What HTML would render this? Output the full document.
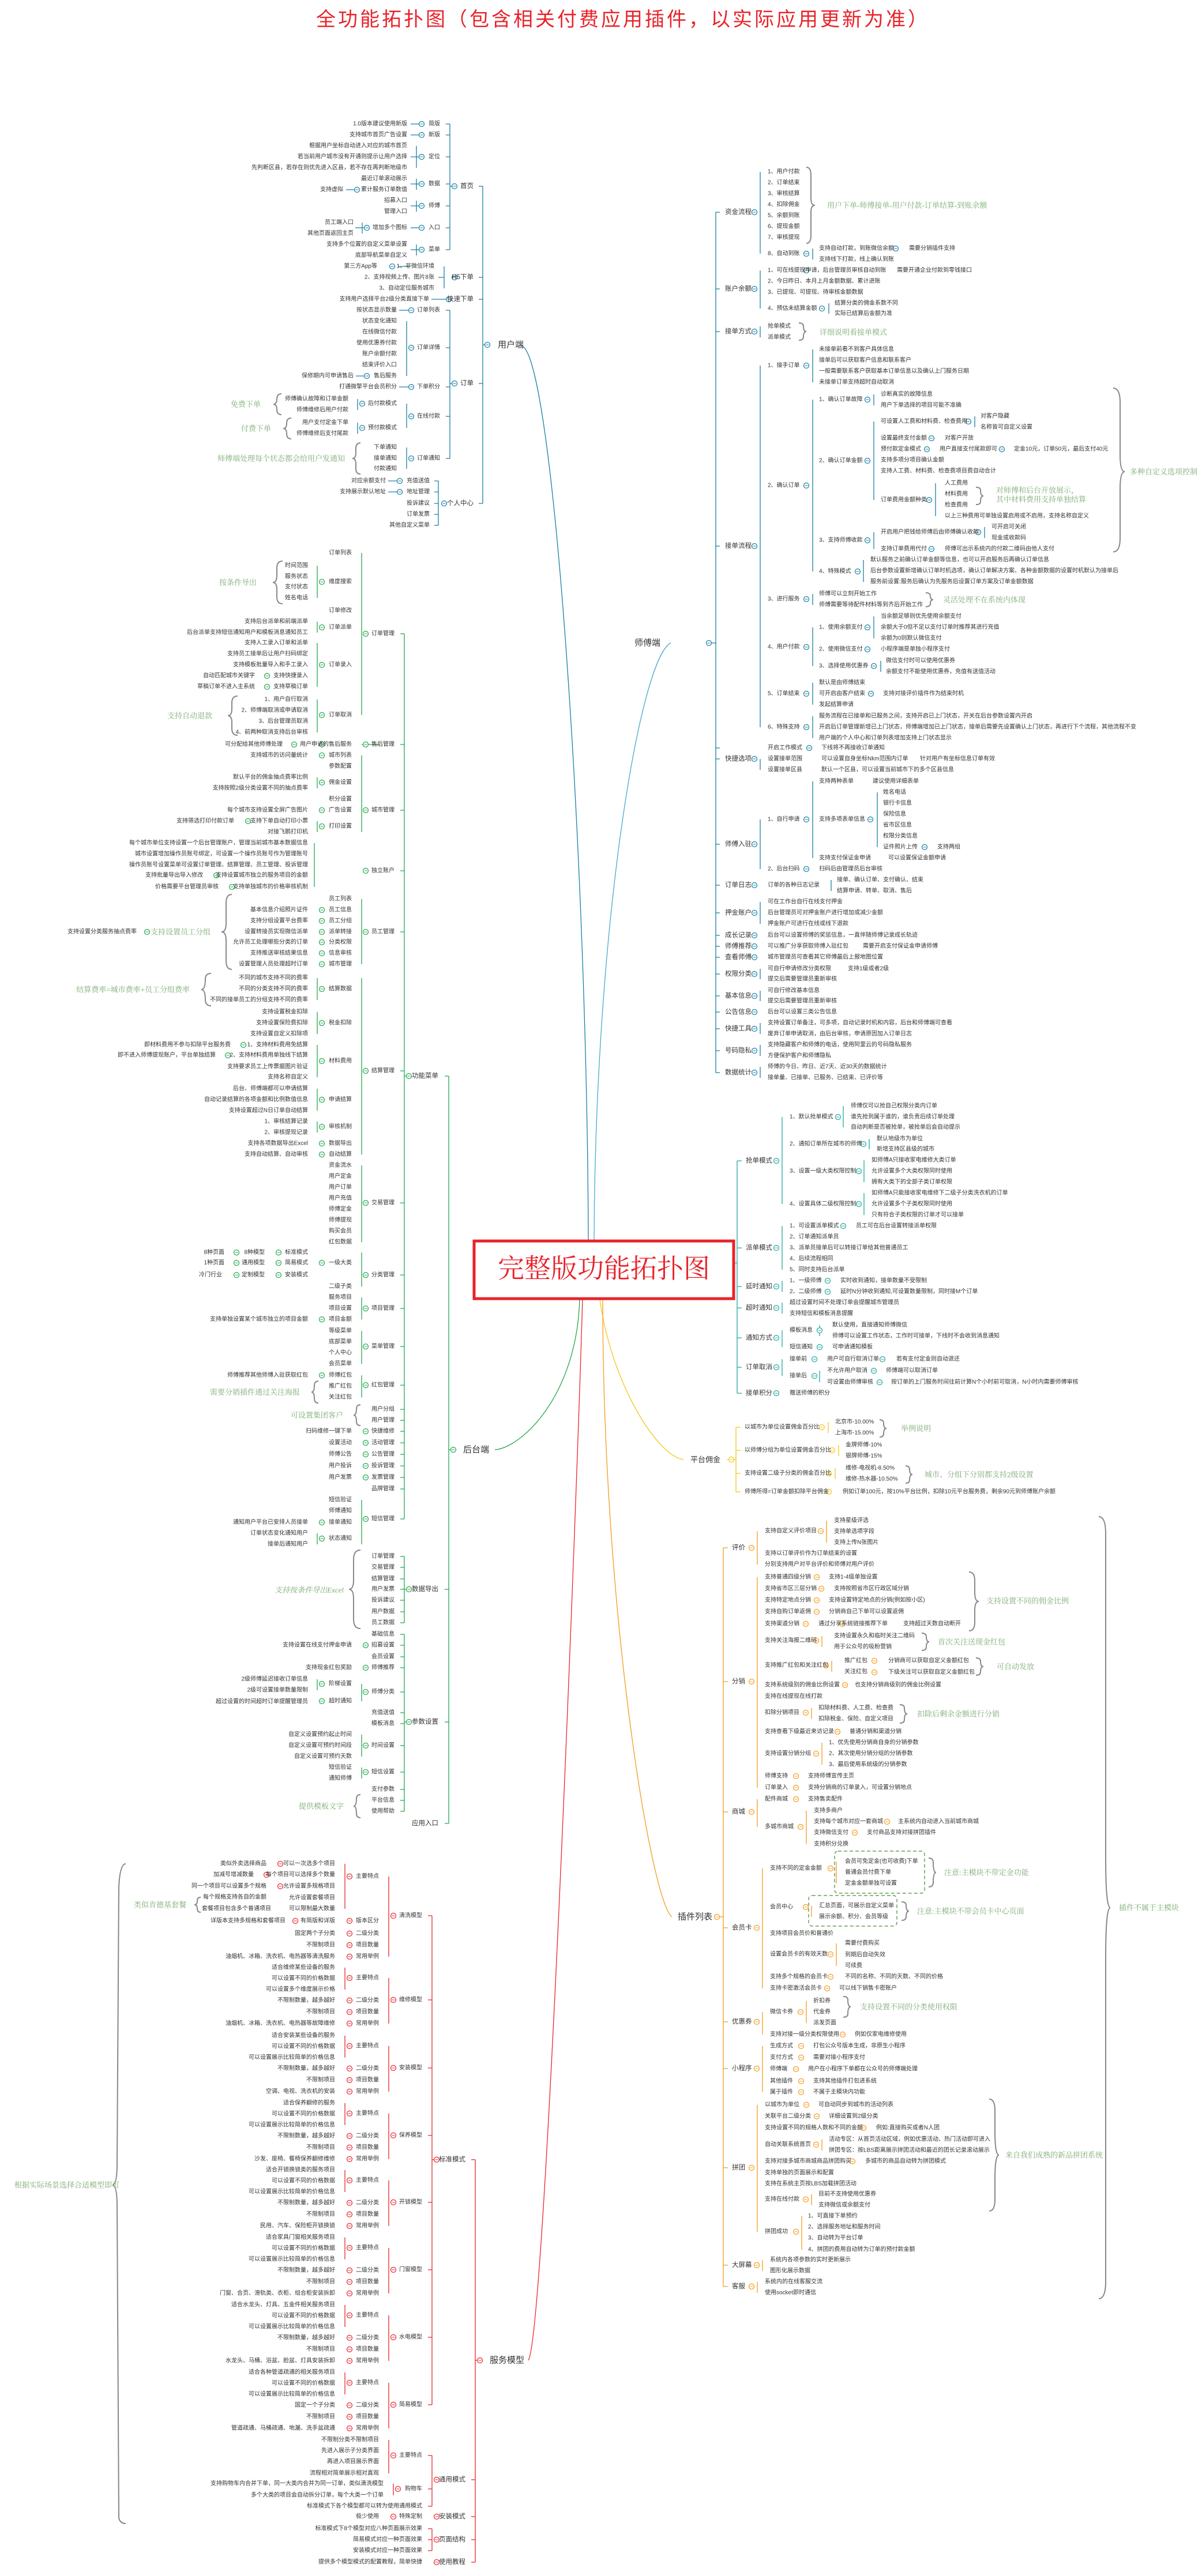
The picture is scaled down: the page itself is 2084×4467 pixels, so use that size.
<!DOCTYPE html>
<html><head><meta charset="utf-8">
<style>
html,body{margin:0;padding:0;background:#fff;}
svg{display:block;}
text{font-family:"Liberation Sans","Noto Sans CJK SC",sans-serif;font-size:10px;fill:#333;dominant-baseline:central;}
.e{text-anchor:end;}
.L{font-size:11.5px;}
.B{font-size:15px;}
.n{font-family:"Liberation Serif","Noto Serif CJK SC",serif;font-size:13px;fill:#7aaa70;}
.ln{fill:none;stroke-width:1.3;}
.br{fill:none;stroke:#888;stroke-width:2;}
</style></head><body>
<svg width="2084" height="4467" viewBox="0 0 2084 4467" xmlns="http://www.w3.org/2000/svg">
<defs><g id="cm"><circle r="4.5" fill="#fff" stroke="currentColor" stroke-width="1.2"/><path d="M-2.5 0h5" stroke="currentColor" stroke-width="1"/></g></defs>

<!-- Title -->
<text x="1080" y="34" text-anchor="middle" style="font-size:34px;fill:#e8232a;letter-spacing:4px;font-family:'Liberation Sans','Noto Sans CJK SC',sans-serif">全功能拓扑图（包含相关付费应用插件，以实际应用更新为准）</text>

<!-- main connectors -->
<path class="ln" stroke="#1b7fa3" d="M905 600 C960 620,1018 1500,1020 2150"/>
<path class="ln" stroke="#48aac8" d="M1163 1115 C1110 1140,1032 1600,1030 2150"/>
<path class="ln" stroke="#23a84c" d="M858 2514 C905 2510,1000 2420,1005 2253"/>
<path class="ln" stroke="#e8262c" d="M916 4093 C945 4050,1000 2600,1010 2253"/>
<path class="ln" stroke="#f5c61a" d="M1185 2531 C1140 2525,1060 2400,1040 2253"/>
<path class="ln" stroke="#f39c1f" d="M1165 3324 C1130 3300,1045 2800,1045 2253"/>
<path class="ln" stroke="#20a8a0" d="M1274 2190 H1278"/>

<!-- Center box -->
<rect x="822" y="2152" width="450" height="100" fill="#fff" stroke="#e8232a" stroke-width="5"/>
<text x="1047" y="2200" text-anchor="middle" style="font-size:46px;fill:#e8232a;font-family:'Liberation Serif','Noto Serif CJK SC',serif">完整版功能拓扑图</text>

<!-- ================= 用户端 ================= -->
<g>
<path class="ln" stroke="#1b7fa3" d="M837 323V873 M830 323h7 M830 481h7 M830 519h7 M830 665h7 M830 873h7 M837 598h4
M780 215V433 M773 215h7 M773 234h7 M773 272h7 M773 319h7 M773 357h7 M773 395h7 M773 433h7 M780 323h10
M722 253V291 M722 310V329 M722 348V367 M722 424V443 M628 386V405 M712 215h15 M712 234h15 M712 272h15 M712 319h15 M712 357h15 M712 395h15 M712 433h15 M600 329h15 M616 395h15
M770 462V500 M690 462h20 M760 481h10 M748 519h25
M780 538V795 M773 538h7 M773 603h7 M773 671h7 M773 722h7 M773 795h7 M780 665h10
M705 557V652 M705 700V742 M620 692V711 M620 733V752 M705 776V813 M692 538h20 M692 671h20 M617 652h15
M760 834V911 M753 834h7 M753 853h7 M753 873h7 M753 892h7 M753 911h7 M673 834h20 M673 853h20"/>
<g style="color:#1b7fa3">
<use href="#cm" x="845" y="598"/><use href="#cm" x="788" y="323"/><use href="#cm" x="788" y="481"/><use href="#cm" x="778" y="519"/><use href="#cm" x="788" y="665"/><use href="#cm" x="770" y="873"/>
<use href="#cm" x="731" y="215"/><use href="#cm" x="731" y="234"/><use href="#cm" x="731" y="272"/><use href="#cm" x="731" y="319"/><use href="#cm" x="731" y="357"/><use href="#cm" x="731" y="395"/><use href="#cm" x="731" y="433"/>
<use href="#cm" x="619" y="329"/><use href="#cm" x="636" y="395"/><use href="#cm" x="680" y="462"/><use href="#cm" x="713" y="538"/><use href="#cm" x="713" y="603"/><use href="#cm" x="636" y="652"/><use href="#cm" x="713" y="671"/><use href="#cm" x="713" y="722"/><use href="#cm" x="628" y="700"/><use href="#cm" x="628" y="742"/><use href="#cm" x="713" y="795"/><use href="#cm" x="693" y="834"/><use href="#cm" x="693" y="853"/>
</g>
<text x="863" y="598" class="B">用户端</text>
<text class="e L" x="821" y="323">首页</text><text class="e L" x="821" y="481">H5下单</text><text class="e L" x="821" y="519">快速下单</text><text class="e L" x="821" y="665">订单</text><text class="e L" x="821" y="873">个人中心</text>
<text class="e" x="763" y="215">简版</text><text class="e" x="763" y="234">新版</text><text class="e" x="763" y="272">定位</text><text class="e" x="763" y="319">数据</text><text class="e" x="763" y="357">师傅</text><text class="e" x="763" y="395">入口</text><text class="e" x="763" y="433">菜单</text>
<text class="e" x="706" y="215">1.0版本建议使用新版</text><text class="e" x="706" y="234">支持城市首页广告设置</text><text class="e" x="706" y="253">根据用户坐标自动进入对应的城市首页</text><text class="e" x="706" y="272">若当前用户城市没有开通则提示让用户选择</text><text class="e" x="706" y="291">先判断区县，若存在则优先进入区县，若不存在再判断地级市</text><text class="e" x="706" y="310">最近订单滚动展示</text><text class="e" x="706" y="329">累计服务订单数值</text><text class="e" x="595" y="329">支持虚拟</text><text class="e" x="706" y="348">招募入口</text><text class="e" x="706" y="367">管理入口</text><text class="e" x="706" y="395">增加多个图标</text><text class="e" x="613" y="386">员工端入口</text><text class="e" x="613" y="405">其他页面返回主页</text><text class="e" x="706" y="424">支持多个位置的自定义菜单设置</text><text class="e" x="706" y="443">底部导航菜单自定义</text>
<text class="e" x="753" y="462">1、非微信环境</text><text class="e" x="654" y="462">第三方App等</text><text class="e" x="753" y="481">2、支持视频上传、图片8张</text><text class="e" x="753" y="500">3、自动定位服务城市</text>
<text class="e" x="744" y="519">支持用户选择平台2级分类直接下单</text>
<text class="e" x="763" y="538">订单列表</text><text class="e" x="688" y="538">按状态显示数量</text>
<text class="e" x="763" y="603">订单详情</text><text class="e" x="688" y="557">状态变化通知</text><text class="e" x="688" y="576">在线微信付款</text><text class="e" x="688" y="595">使用优惠券付款</text><text class="e" x="688" y="614">账户余额付款</text><text class="e" x="688" y="633">结束评价入口</text><text class="e" x="688" y="652">售后服务</text><text class="e" x="613" y="652">保修期内可申请售后</text>
<text class="e" x="763" y="671">下单积分</text><text class="e" x="688" y="671">打通微擎平台会员积分</text>
<text class="e" x="763" y="722">在线付款</text><text class="e" x="688" y="700">后付款模式</text><text class="e" x="688" y="742">预付款模式</text>
<text class="e" x="604" y="692">师傅确认故障和订单金额</text><text class="e" x="604" y="711">师傅维修后用户付款</text><text class="e" x="604" y="733">用户支付定金下单</text><text class="e" x="604" y="752">师傅维修后支付尾款</text>
<text class="e n" x="452" y="701">免费下单</text><text class="e n" x="470" y="743">付费下单</text>
<path class="br" d="M488 683 q-8 0 -8 9 v0 q0 9 -6 9 q6 0 6 9 q0 9 8 9 M505 725 q-8 0 -8 9 q0 9 -6 9 q6 0 6 9 q0 9 8 9 M625 768 q-8 0 -8 10 v7 q0 10 -6 10 q6 0 6 10 v7 q0 10 8 10"/>
<text class="e" x="763" y="795">订单通知</text><text class="e" x="688" y="776">下单通知</text><text class="e" x="688" y="795">接单通知</text><text class="e" x="688" y="813">付款通知</text>
<text class="e n" x="598" y="795">师傅端处理每个状态都会给用户发通知</text>
<text class="e" x="745" y="834">充值送值</text><text class="e" x="669" y="834">对应余额支付</text><text class="e" x="745" y="853">地址管理</text><text class="e" x="669" y="853">支持展示默认地址</text><text class="e" x="745" y="873">投诉建议</text><text class="e" x="745" y="892">订单发票</text><text class="e" x="745" y="911">其他自定义菜单</text>
</g>

<!-- ================= 后台端 ================= -->
<g>
<path class="ln" stroke="#23a84c" d="M778 1866V3162 M771 1866h7 M771 2756h7 M771 2986h7 M771 3162h7 M778 2514h12
M701 1099V2634 M694 1099h7 M694 1291h7 M694 1405h7 M694 1510h7 M694 1616h7 M694 1857h7 M694 2086h7 M694 2211h7 M694 2269h7 M694 2335h7 M694 2402h7 M694 2444h7 M694 2463h7 M694 2482h7 M694 2502h7 M694 2522h7 M694 2542h7 M694 2562h7 M694 2582h7 M694 2634h7 M701 1866h12
M627 959V1240 M627 1291h30 M627 1310V1443 M545 1462V1538 M627 1559V1672 M627 1696V2002 M627 2021V2154 M627 2172V2231 M627 2250V2288 M627 2308V2365 M627 2385V2423 M627 2601V2678
M550 981V1037 M550 1078V1097 M550 1115V1191 M550 1213V1270 M550 1348V1367 M550 1424V1443 M550 1696V1734 M550 1755V1793 M550 1812V1868 M550 1888V1926 M550 1945V1964 M550 2659V2678
M701 2699V2814 M694 2699h7 M694 2718h7 M694 2738h7 M694 2756h7 M694 2775h7 M694 2795h7 M694 2814h7 M701 2756h10
M701 2834V3141 M694 2834h7 M694 2853h7 M694 2873h7 M694 2892h7 M694 2934h7 M694 2970h7 M694 2989h7 M694 3027h7 M694 3073h7 M694 3103h7 M694 3122h7 M694 3141h7 M701 2986h10
M627 2920V2950 M627 3008V3046 M627 3065V3084 M550 2912V2931"/>
<g style="color:#23a84c">
<use href="#cm" x="786" y="2514"/><use href="#cm" x="709" y="1866"/><use href="#cm" x="709" y="2756"/><use href="#cm" x="709" y="2986"/>
<use href="#cm" x="634" y="1099"/><use href="#cm" x="634" y="1291"/><use href="#cm" x="634" y="1405"/><use href="#cm" x="634" y="1510"/><use href="#cm" x="634" y="1616"/><use href="#cm" x="634" y="1857"/><use href="#cm" x="634" y="2086"/><use href="#cm" x="634" y="2211"/><use href="#cm" x="634" y="2269"/><use href="#cm" x="634" y="2335"/><use href="#cm" x="634" y="2402"/><use href="#cm" x="634" y="2634"/>
<use href="#cm" x="558" y="1009"/><use href="#cm" x="558" y="1088"/><use href="#cm" x="558" y="1153"/><use href="#cm" x="558" y="1240"/><use href="#cm" x="558" y="1291"/><use href="#cm" x="558" y="1310"/><use href="#cm" x="558" y="1357"/><use href="#cm" x="558" y="1405"/><use href="#cm" x="558" y="1433"/><use href="#cm" x="558" y="1578"/><use href="#cm" x="558" y="1597"/><use href="#cm" x="558" y="1616"/><use href="#cm" x="558" y="1634"/><use href="#cm" x="558" y="1653"/><use href="#cm" x="558" y="1672"/><use href="#cm" x="558" y="1715"/><use href="#cm" x="558" y="1774"/><use href="#cm" x="558" y="1840"/><use href="#cm" x="558" y="1907"/><use href="#cm" x="558" y="1954"/><use href="#cm" x="558" y="1983"/><use href="#cm" x="558" y="2002"/><use href="#cm" x="558" y="2190"/><use href="#cm" x="558" y="2288"/><use href="#cm" x="558" y="2385"/><use href="#cm" x="558" y="2640"/><use href="#cm" x="558" y="2668"/>
<use href="#cm" x="634" y="2482"/><use href="#cm" x="634" y="2502"/><use href="#cm" x="634" y="2522"/><use href="#cm" x="634" y="2542"/><use href="#cm" x="634" y="2562"/><use href="#cm" x="634" y="2853"/><use href="#cm" x="634" y="2892"/><use href="#cm" x="634" y="2934"/><use href="#cm" x="634" y="3027"/><use href="#cm" x="634" y="3073"/>
<use href="#cm" x="463" y="1172"/><use href="#cm" x="463" y="1191"/><use href="#cm" x="510" y="1291"/><use href="#cm" x="430" y="1424"/><use href="#cm" x="375" y="1518"/><use href="#cm" x="402" y="1538"/><use href="#cm" x="255" y="1616"/><use href="#cm" x="422" y="1812"/><use href="#cm" x="395" y="1830"/><use href="#cm" x="483" y="2172"/><use href="#cm" x="483" y="2190"/><use href="#cm" x="483" y="2211"/><use href="#cm" x="410" y="2172"/><use href="#cm" x="410" y="2190"/><use href="#cm" x="410" y="2211"/><use href="#cm" x="558" y="2920"/><use href="#cm" x="558" y="2950"/>
</g>
<text x="803" y="2514" class="B">后台端</text>
<text class="e L" x="760" y="1866">功能菜单</text><text class="e L" x="760" y="2756">数据导出</text><text class="e L" x="760" y="2986">参数设置</text><text class="e L" x="760" y="3162">应用入口</text>
<text class="e" x="684" y="1099">订单管理</text><text class="e" x="684" y="1291">售后管理</text><text class="e" x="684" y="1405">城市管理</text><text class="e" x="684" y="1510">独立账户</text><text class="e" x="684" y="1616">员工管理</text><text class="e" x="684" y="1857">结算管理</text><text class="e" x="684" y="2086">交易管理</text><text class="e" x="684" y="2211">分类管理</text><text class="e" x="684" y="2269">项目管理</text><text class="e" x="684" y="2335">菜单管理</text><text class="e" x="684" y="2402">红包管理</text><text class="e" x="684" y="2444">用户分组</text><text class="e" x="684" y="2463">用户管理</text><text class="e" x="684" y="2482">快捷维修</text><text class="e" x="684" y="2502">活动管理</text><text class="e" x="684" y="2522">公告管理</text><text class="e" x="684" y="2542">投诉管理</text><text class="e" x="684" y="2562">发票管理</text><text class="e" x="684" y="2582">品牌管理</text><text class="e" x="684" y="2634">短信管理</text>
<!-- 订单管理 -->
<text class="e" x="610" y="959">订单列表</text><text class="e" x="610" y="1009">维度搜索</text><text class="e" x="610" y="1059">订单修改</text><text class="e" x="610" y="1088">订单派单</text><text class="e" x="610" y="1153">订单录入</text><text class="e" x="610" y="1240">订单取消</text>
<text class="e" x="534" y="981">时间范围</text><text class="e" x="534" y="1000">服务状态</text><text class="e" x="534" y="1018">支付状态</text><text class="e" x="534" y="1037">姓名电话</text>
<text class="e n" x="445" y="1010">按条件导出</text>
<text class="e" x="534" y="1078">支持后台派单和前端派单</text><text class="e" x="534" y="1097">后台派单支持短信通知用户和模板消息通知员工</text>
<text class="e" x="534" y="1115">支持人工录入订单和派单</text><text class="e" x="534" y="1134">支持员工接单后让用户扫码绑定</text><text class="e" x="534" y="1153">支持模板批量导入和手工录入</text><text class="e" x="534" y="1172">支持快捷录入</text><text class="e" x="442" y="1172">自动匹配城市关键字</text><text class="e" x="534" y="1191">支持草稿订单</text><text class="e" x="442" y="1191">草稿订单不进入主系统</text>
<text class="e" x="534" y="1213">1、用户自行取消</text><text class="e" x="534" y="1232">2、师傅端取消或申请取消</text><text class="e" x="534" y="1251">3、后台管理员取消</text><text class="e" x="534" y="1270">4、前两种取消支持后台审核</text>
<text class="e n" x="368" y="1241">支持自动退款</text>
<text class="e" x="610" y="1291">用户申请的售后服务</text><text class="e" x="490" y="1291">可分配给其他师傅处理</text>
<text class="e" x="610" y="1310">城市列表</text><text class="e" x="534" y="1310">支持城市的访问量统计</text><text class="e" x="610" y="1329">参数配置</text><text class="e" x="610" y="1357">佣金设置</text><text class="e" x="534" y="1348">默认平台的佣金抽点费率比例</text><text class="e" x="534" y="1367">支持按照2级分类设置不同的抽点费率</text><text class="e" x="610" y="1386">积分设置</text><text class="e" x="610" y="1405">广告设置</text><text class="e" x="534" y="1405">每个城市支持设置全屏广告图片</text><text class="e" x="610" y="1433">打印设置</text><text class="e" x="534" y="1424">支持下单自动打印小票</text><text class="e" x="406" y="1424">支持筛选打印付款订单</text><text class="e" x="534" y="1443">对接飞鹅打印机</text>
<text class="e" x="534" y="1462">每个城市单位支持设置一个后台管理账户，管理当前城市基本数据信息</text><text class="e" x="534" y="1481">城市设置增加操作员账号绑定，可设置一个操作员账号作为管理账号</text><text class="e" x="534" y="1500">操作员账号设置菜单可设置订单管理、结算管理、员工管理、投诉管理</text><text class="e" x="534" y="1518">支持设置城市独立的服务项目的金额</text><text class="e" x="352" y="1518">支持批量导出导入修改</text><text class="e" x="534" y="1538">支持单独城市的价格审核机制</text><text class="e" x="379" y="1538">价格需要平台管理员审核</text>
<text class="e" x="610" y="1559">员工列表</text><text class="e" x="610" y="1578">员工信息</text><text class="e" x="610" y="1597">员工分组</text><text class="e" x="610" y="1616">派单转接</text><text class="e" x="610" y="1634">分类权限</text><text class="e" x="610" y="1653">信息审核</text><text class="e" x="610" y="1672">城市管理</text>
<text class="e" x="534" y="1578">基本信息介绍照片证件</text><text class="e" x="534" y="1597">支持分组设置平台费率</text><text class="e" x="534" y="1616">设置转接员实现微信派单</text><text class="e" x="534" y="1634">允许员工处理哪些分类的订单</text><text class="e" x="534" y="1653">支持推送审核结果信息</text><text class="e" x="534" y="1672">设置管理人员处理超时订单</text>
<path class="br" d="M402 1551 q-10 0 -10 15 v35 q0 15 -8 15 q8 0 8 15 v35 q0 15 10 15 M366 1688 q-10 0 -10 10 q0 18 -7 18 q7 0 7 18 q0 10 10 10 M625 2688 q-12 0 -12 16 v36 q0 16 -8 16 q8 0 8 16 v36 q0 16 12 16 M490 973 q-10 0 -10 12 v13 q0 12 -7 12 q7 0 7 12 v13 q0 12 10 12 M412 1207 q-10 0 -10 12 v10 q0 12 -7 12 q7 0 7 12 v10 q0 12 10 12"/>
<text class="e n" x="365" y="1616">支持设置员工分组</text><text class="e" x="237" y="1616">支持设置分类服务抽点费率</text>
<text class="e" x="610" y="1715">结算数据</text><text class="e" x="534" y="1696">不同的城市支持不同的费率</text><text class="e" x="534" y="1715">不同的分类支持不同的费率</text><text class="e" x="534" y="1734">不同的接单员工的分组支持不同的费率</text>
<text class="e n" x="329" y="1716">结算费率=城市费率+员工分组费率</text>
<text class="e" x="610" y="1774">税金扣除</text><text class="e" x="534" y="1755">支持设置税金扣除</text><text class="e" x="534" y="1774">支持设置保险费扣除</text><text class="e" x="534" y="1793">支持设置自定义扣除项</text>
<text class="e" x="610" y="1840">材料费用</text><text class="e" x="534" y="1812">1、支持材料费用免结算</text><text class="e" x="400" y="1812">即材料费用不参与扣除平台服务费</text><text class="e" x="534" y="1830">2、支持材料费用单独线下结算</text><text class="e" x="374" y="1830">即不进入师傅提现账户，平台单独结算</text><text class="e" x="534" y="1850">支持要求员工上传票据图片验证</text><text class="e" x="534" y="1868">支持名称自定义</text>
<text class="e" x="610" y="1907">申请结算</text><text class="e" x="534" y="1888">后台、师傅端都可以申请结算</text><text class="e" x="534" y="1907">自动记录结算的各项金额和比例数值信息</text><text class="e" x="534" y="1926">支持设置超过N日订单自动结算</text>
<text class="e" x="610" y="1954">审核机制</text><text class="e" x="534" y="1945">1、审核结算记录</text><text class="e" x="534" y="1964">2、审核提现记录</text>
<text class="e" x="610" y="1983">数据导出</text><text class="e" x="534" y="1983">支持各项数据导出Excel</text><text class="e" x="610" y="2002">自动结算</text><text class="e" x="534" y="2002">支持自动结算、自动审核</text>
<text class="e" x="610" y="2021">资金流水</text><text class="e" x="610" y="2040">用户定金</text><text class="e" x="610" y="2059">用户订单</text><text class="e" x="610" y="2078">用户充值</text><text class="e" x="610" y="2097">师傅定金</text><text class="e" x="610" y="2116">师傅提现</text><text class="e" x="610" y="2135">购买会员</text><text class="e" x="610" y="2154">红包数据</text>
<text class="e" x="610" y="2190">一级大类</text><text class="e" x="534" y="2172">标准模式</text><text class="e" x="534" y="2190">简易模式</text><text class="e" x="534" y="2211">安装模式</text><text class="e" x="459" y="2172">8种模型</text><text class="e" x="459" y="2190">通用模型</text><text class="e" x="459" y="2211">定制模型</text><text class="e" x="389" y="2172">8种页面</text><text class="e" x="389" y="2190">1种页面</text><text class="e" x="385" y="2211">冷门行业</text>
<text class="e" x="610" y="2231">二级子类</text><text class="e" x="610" y="2250">服务项目</text><text class="e" x="610" y="2269">项目设置</text><text class="e" x="610" y="2288">项目金额</text><text class="e" x="534" y="2288">支持单独设置某个城市独立的项目金额</text>
<text class="e" x="610" y="2308">等级菜单</text><text class="e" x="610" y="2327">底部菜单</text><text class="e" x="610" y="2346">个人中心</text><text class="e" x="610" y="2365">会员菜单</text>
<text class="e" x="610" y="2385">师傅红包</text><text class="e" x="534" y="2385">师傅推荐其他师傅入驻获取红包</text><text class="e" x="610" y="2404">推广红包</text><text class="e" x="610" y="2423">关注红包</text>
<text class="e n" x="520" y="2414">需要分销插件通过关注海报</text><text class="e n" x="595" y="2454">可设置集团客户</text>
<path class="br" d="M552 2395 q-7 0 -7 8 q0 11 -5 11 q5 0 5 11 q0 8 7 8 M625 2436 q-7 0 -7 7 q0 11 -5 11 q5 0 5 11 q0 7 7 7 M625 3112 q-7 0 -7 7 q0 13 -5 13 q5 0 5 13 q0 7 7 7"/>
<text class="e" x="610" y="2482">扫码维修一键下单</text><text class="e" x="610" y="2502">设置活动</text><text class="e" x="610" y="2522">师傅公告</text><text class="e" x="610" y="2542">用户投诉</text><text class="e" x="610" y="2562">用户发票</text>
<text class="e" x="610" y="2601">短信验证</text><text class="e" x="610" y="2620">师傅通知</text><text class="e" x="610" y="2640">接单通知</text><text class="e" x="534" y="2640">通知用户平台已安排人员接单</text><text class="e" x="610" y="2668">状态通知</text><text class="e" x="534" y="2659">订单状态变化通知用户</text><text class="e" x="534" y="2678">接单后通知用户</text>
<text class="e" x="684" y="2699">订单管理</text><text class="e" x="684" y="2718">交易管理</text><text class="e" x="684" y="2738">结算管理</text><text class="e" x="684" y="2756">用户发票</text><text class="e" x="684" y="2775">投诉建议</text><text class="e" x="684" y="2795">用户数据</text><text class="e" x="684" y="2814">员工数据</text>
<text class="e n" x="596" y="2757" style="font-style:italic">支持按条件导出Excel</text>
<text class="e" x="684" y="2834">基础信息</text><text class="e" x="684" y="2853">招募设置</text><text class="e" x="610" y="2853">支持设置在线支付押金申请</text><text class="e" x="684" y="2873">会员设置</text><text class="e" x="684" y="2892">师傅推荐</text><text class="e" x="610" y="2892">支持现金红包奖励</text><text class="e" x="684" y="2934">师傅分类</text><text class="e" x="610" y="2920">阶梯设置</text><text class="e" x="610" y="2950">超时通知</text><text class="e" x="534" y="2912">2级师傅延迟接收订单信息</text><text class="e" x="534" y="2931">2级可设置接单数量限制</text><text class="e" x="534" y="2951">超过设置的时间超时订单提醒管理员</text>
<text class="e" x="684" y="2970">充值送值</text><text class="e" x="684" y="2989">模板消息</text><text class="e" x="684" y="3027">时间设置</text><text class="e" x="610" y="3008">自定义设置预约起止时间</text><text class="e" x="610" y="3027">自定义设置可预约时间段</text><text class="e" x="610" y="3046">自定义设置可预约天数</text><text class="e" x="684" y="3073">短信设置</text><text class="e" x="610" y="3065">短信验证</text><text class="e" x="610" y="3084">通知师傅</text><text class="e" x="684" y="3103">支付参数</text><text class="e" x="684" y="3122">平台信息</text><text class="e" x="684" y="3141">使用帮助</text>
<text class="e n" x="596" y="3132">提供模板文字</text>
</g>

<!-- ================= 服务模型 ================= -->
<g>
<path class="ln" stroke="#e8262c" d="M824 3745V4443 M817 3745h7 M817 4300h7 M817 4364h7 M817 4404h7 M817 4443h7 M824 4093h8
M749 3322V4170 M742 3322h7 M742 3468h7 M742 3586h7 M742 3703h7 M742 3819h7 M742 3936h7 M742 3936h7 M742 4053h7 M742 4170h7 M749 3745h10
M674 3254V3393 M674 3430V3509 M674 3548V3627 M674 3665V3744 M674 3781V3860 M674 3898V3977 M674 4015V4094 M674 4132V4211
M598 3232V3310 M598 3412V3450 M598 3530V3568 M598 3647V3685 M598 3763V3801 M598 3880V3918 M598 3997V4035 M598 4114V4152
M749 4258V4346 M742 4258h7 M742 4316h7 M742 4346h7 M674 4231V4289 M682 4307V4327 M749 4385V4423 M742 4385h7 M742 4404h7 M742 4423h7"/>
<g style="color:#e8262c">
<use href="#cm" x="832" y="4093"/><use href="#cm" x="757" y="3745"/><use href="#cm" x="757" y="4300"/><use href="#cm" x="757" y="4364"/><use href="#cm" x="757" y="4404"/><use href="#cm" x="757" y="4443"/>
<use href="#cm" x="682" y="3322"/><use href="#cm" x="682" y="3468"/><use href="#cm" x="682" y="3586"/><use href="#cm" x="682" y="3703"/><use href="#cm" x="682" y="3819"/><use href="#cm" x="682" y="3936"/><use href="#cm" x="682" y="4053"/><use href="#cm" x="682" y="4170"/><use href="#cm" x="682" y="4258"/><use href="#cm" x="690" y="4316"/><use href="#cm" x="682" y="4364"/>
<use href="#cm" x="606" y="3254"/><use href="#cm" x="606" y="3331"/><use href="#cm" x="606" y="3353"/><use href="#cm" x="606" y="3373"/><use href="#cm" x="606" y="3393"/>
<use href="#cm" x="606" y="3430"/><use href="#cm" x="606" y="3469"/><use href="#cm" x="606" y="3489"/><use href="#cm" x="606" y="3509"/>
<use href="#cm" x="606" y="3548"/><use href="#cm" x="606" y="3587"/><use href="#cm" x="606" y="3607"/><use href="#cm" x="606" y="3627"/>
<use href="#cm" x="606" y="3665"/><use href="#cm" x="606" y="3704"/><use href="#cm" x="606" y="3724"/><use href="#cm" x="606" y="3744"/>
<use href="#cm" x="606" y="3781"/><use href="#cm" x="606" y="3820"/><use href="#cm" x="606" y="3840"/><use href="#cm" x="606" y="3860"/>
<use href="#cm" x="606" y="3898"/><use href="#cm" x="606" y="3937"/><use href="#cm" x="606" y="3957"/><use href="#cm" x="606" y="3977"/>
<use href="#cm" x="606" y="4015"/><use href="#cm" x="606" y="4054"/><use href="#cm" x="606" y="4074"/><use href="#cm" x="606" y="4094"/>
<use href="#cm" x="606" y="4132"/><use href="#cm" x="606" y="4171"/><use href="#cm" x="606" y="4191"/><use href="#cm" x="606" y="4211"/>
<use href="#cm" x="512" y="3331"/><use href="#cm" x="486" y="3232"/><use href="#cm" x="462" y="3251"/><use href="#cm" x="486" y="3271"/>
</g>
<text x="849" y="4093" class="B">服务模型</text>
<text class="e L" x="807" y="3745">标准模式</text><text class="e L" x="807" y="4300">通用模式</text><text class="e L" x="807" y="4364">安装模式</text><text class="e L" x="807" y="4404">页面结构</text><text class="e L" x="807" y="4443">使用教程</text>
<text class="e" x="732" y="3322">清洗模型</text><text class="e" x="732" y="3468">维修模型</text><text class="e" x="732" y="3586">安装模型</text><text class="e" x="732" y="3703">保养模型</text><text class="e" x="732" y="3819">开锁模型</text><text class="e" x="732" y="3936">门窗模型</text><text class="e" x="732" y="4053">水电模型</text><text class="e" x="732" y="4170">简易模型</text>
<!-- 清洗 -->
<text class="e" x="657" y="3254">主要特点</text><text class="e" x="657" y="3331">版本区分</text><text class="e" x="657" y="3353">二级分类</text><text class="e" x="657" y="3373">项目数量</text><text class="e" x="657" y="3393">常用举例</text>
<text class="e" x="581" y="3232">可以一次选多个项目</text><text class="e" x="581" y="3251">每个项目可以选择多个数量</text><text class="e" x="581" y="3271">允许设置多规格项目</text><text class="e" x="581" y="3291">允许设置套餐项目</text><text class="e" x="581" y="3310">可以限制最大数量</text>
<text class="e" x="462" y="3232">类似外卖选择商品</text><text class="e" x="440" y="3251">加减号增减数量</text><text class="e" x="462" y="3271">同一个项目可以设置多个规格</text><text class="e" x="462" y="3290">每个规格支持各自的金额</text><text class="e" x="470" y="3310">套餐项目包含多个普通项目</text>
<text class="e" x="581" y="3331">有简版和详版</text><text class="e" x="495" y="3331">详版本支持多规格和套餐项目</text><text class="e" x="581" y="3353">固定两个子分类</text><text class="e" x="581" y="3373">不限制项目</text><text class="e" x="581" y="3393">油烟机、冰箱、洗衣机、电热器等清洗服务</text>
<text class="n" x="232" y="3303">类似肯德基套餐</text>
<!-- generic models -->
<g>
<text class="e" x="657" y="3430">主要特点</text><text class="e" x="657" y="3469">二级分类</text><text class="e" x="657" y="3489">项目数量</text><text class="e" x="657" y="3509">常用举例</text>
<text class="e" x="581" y="3412">适合维修某些设备的服务</text><text class="e" x="581" y="3431">可以设置不同的价格数据</text><text class="e" x="581" y="3450">可以设置多个维度展示价格</text><text class="e" x="581" y="3469">不限制数量，越多越好</text><text class="e" x="581" y="3489">不限制项目</text><text class="e" x="581" y="3509">油烟机、冰箱、洗衣机、电热器等故障维修</text>
<text class="e" x="657" y="3548">主要特点</text><text class="e" x="657" y="3587">二级分类</text><text class="e" x="657" y="3607">项目数量</text><text class="e" x="657" y="3627">常用举例</text>
<text class="e" x="581" y="3530">适合安装某些设备的服务</text><text class="e" x="581" y="3549">可以设置不同的价格数据</text><text class="e" x="581" y="3568">可以设置展示比较简单的价格信息</text><text class="e" x="581" y="3587">不限制数量，越多越好</text><text class="e" x="581" y="3607">不限制项目</text><text class="e" x="581" y="3627">空调、电视、洗衣机的安装</text>
<text class="e" x="657" y="3665">主要特点</text><text class="e" x="657" y="3704">二级分类</text><text class="e" x="657" y="3724">项目数量</text><text class="e" x="657" y="3744">常用举例</text>
<text class="e" x="581" y="3647">适合保养翻修的服务</text><text class="e" x="581" y="3666">可以设置不同的价格数据</text><text class="e" x="581" y="3685">可以设置展示比较简单的价格信息</text><text class="e" x="581" y="3704">不限制数量，越多越好</text><text class="e" x="581" y="3724">不限制项目</text><text class="e" x="581" y="3744">沙发、座椅、餐椅保养翻修维修</text>
<text class="e" x="657" y="3781">主要特点</text><text class="e" x="657" y="3820">二级分类</text><text class="e" x="657" y="3840">项目数量</text><text class="e" x="657" y="3860">常用举例</text>
<text class="e" x="581" y="3763">适合开锁换锁类的服务项目</text><text class="e" x="581" y="3782">可以设置不同的价格数据</text><text class="e" x="581" y="3801">可以设置展示比较简单的价格信息</text><text class="e" x="581" y="3820">不限制数量，越多越好</text><text class="e" x="581" y="3840">不限制项目</text><text class="e" x="581" y="3860">民用、汽车、保险柜开锁换锁</text>
<text class="e" x="657" y="3898">主要特点</text><text class="e" x="657" y="3937">二级分类</text><text class="e" x="657" y="3957">项目数量</text><text class="e" x="657" y="3977">常用举例</text>
<text class="e" x="581" y="3880">适合家具门窗相关服务项目</text><text class="e" x="581" y="3899">可以设置不同的价格数据</text><text class="e" x="581" y="3918">可以设置展示比较简单的价格信息</text><text class="e" x="581" y="3937">不限制数量，越多越好</text><text class="e" x="581" y="3957">不限制项目</text><text class="e" x="581" y="3977">门窗、合页、滑轨类、衣柜、组合柜安装拆卸</text>
<text class="e" x="657" y="4015">主要特点</text><text class="e" x="657" y="4054">二级分类</text><text class="e" x="657" y="4074">项目数量</text><text class="e" x="657" y="4094">常用举例</text>
<text class="e" x="581" y="3997">适合水龙头、灯具、五金件相关服务项目</text><text class="e" x="581" y="4016">可以设置不同的价格数据</text><text class="e" x="581" y="4035">可以设置展示比较简单的价格信息</text><text class="e" x="581" y="4054">不限制数量，越多越好</text><text class="e" x="581" y="4074">不限制项目</text><text class="e" x="581" y="4094">水龙头、马桶、浴盆、脸盆、灯具安装拆卸</text>
<text class="e" x="657" y="4132">主要特点</text><text class="e" x="657" y="4171">二级分类</text><text class="e" x="657" y="4191">项目数量</text><text class="e" x="657" y="4211">常用举例</text>
<text class="e" x="581" y="4114">适合各种管道疏通的相关服务项目</text><text class="e" x="581" y="4133">可以设置不同的价格数据</text><text class="e" x="581" y="4152">可以设置展示比较简单的价格信息</text><text class="e" x="581" y="4171">固定一个子分类</text><text class="e" x="581" y="4191">不限制项目</text><text class="e" x="581" y="4211">管道疏通、马桶疏通、地漏、洗手盆疏通</text>
</g>
<text class="e" x="732" y="4258">主要特点</text><text class="e" x="657" y="4231">不限制分类不限制项目</text><text class="e" x="657" y="4250">先进入展示子分类界面</text><text class="e" x="657" y="4269">再进入项目展示界面</text><text class="e" x="657" y="4289">流程相对简单展示相对直观</text>
<text class="e" x="732" y="4316">购物车</text><text class="e" x="665" y="4307">支持购物车内合并下单，同一大类内合并为同一订单，类似清洗模型</text><text class="e" x="665" y="4327">多个大类的项目会自动拆分订单，每个大类一个订单</text>
<text class="e" x="732" y="4346">标准模式下各个模型都可以转为使用通用模式</text>
<text class="e" x="732" y="4364">特殊定制</text><text class="e" x="657" y="4364">极少使用</text>
<text class="e" x="732" y="4385">标准模式下8个模型对应八种页面展示效果</text><text class="e" x="732" y="4404">简易模式对应一种页面效果</text><text class="e" x="732" y="4423">安装模式对应一种页面效果</text>
<text class="e" x="732" y="4443">提供多个模型模式的配置教程，简单快捷</text>
<path class="br" d="M218 3232 q-10 0 -12 40 l-3 480 q0 36 -8 37 q8 1 8 37 l3 540 q2 10 12 10 M348 3290 q-6 0 -6 6 q0 7 -5 7 q5 0 5 7 q0 6 6 6"/>
<text class="n" x="25" y="3789">根据实际场景选择合适模型即可</text>
</g>

<!-- ================= 师傅端 ================= -->
<g>
<path class="ln" stroke="#1b7fa3" d="M1241 368V1860 M1241 368h7 M1241 501h7 M1241 575h7 M1241 947h7 M1241 1297h7 M1241 1316h7 M1241 1464h7 M1241 1535h7 M1241 1583h7 M1241 1622h7 M1241 1641h7 M1241 1660h7 M1241 1689h7 M1241 1727h7 M1241 1755h7 M1241 1784h7 M1241 1822h7 M1241 1860h7 M1225 1115h16
M1318 298V440 M1318 469V535 M1318 566V585 M1318 634V1261 M1318 1316V1335 M1318 1421V1507 M1318 1564V1602 M1318 1680V1698 M1318 1718V1736 M1318 1774V1793 M1318 1812V1831 M1318 1850V1869
M1409 431V450 M1437 526V544 M1409 606V663 M1409 693V991 M1409 1030V1049 M1409 1088V1155 M1409 1184V1222 M1409 1242V1280 M1409 1355V1488 M1441 1526V1545
M1515 684V703 M1515 731V867 M1690 722V741 M1622 838V895 M1515 923V952 M1707 914V933 M1497 971V1009 M1515 1069V1107 M1527 1146V1165 M1521 1374V1469"/>
<g style="color:#1b7fa3">
<use href="#cm" x="1229" y="1115"/>
<use href="#cm" x="1308" y="368"/><use href="#cm" x="1308" y="501"/><use href="#cm" x="1308" y="575"/><use href="#cm" x="1308" y="947"/><use href="#cm" x="1308" y="1316"/><use href="#cm" x="1308" y="1464"/><use href="#cm" x="1308" y="1535"/><use href="#cm" x="1308" y="1583"/><use href="#cm" x="1308" y="1622"/><use href="#cm" x="1308" y="1641"/><use href="#cm" x="1308" y="1660"/><use href="#cm" x="1308" y="1689"/><use href="#cm" x="1308" y="1727"/><use href="#cm" x="1308" y="1755"/><use href="#cm" x="1308" y="1784"/><use href="#cm" x="1308" y="1822"/><use href="#cm" x="1308" y="1860"/>
<use href="#cm" x="1398" y="440"/><use href="#cm" x="1398" y="469"/><use href="#cm" x="1425" y="535"/><use href="#cm" x="1398" y="634"/><use href="#cm" x="1398" y="842"/><use href="#cm" x="1398" y="1039"/><use href="#cm" x="1398" y="1122"/><use href="#cm" x="1398" y="1203"/><use href="#cm" x="1398" y="1261"/><use href="#cm" x="1403" y="1297"/><use href="#cm" x="1398" y="1421"/><use href="#cm" x="1398" y="1507"/>
<use href="#cm" x="1553" y="431"/><use href="#cm" x="1504" y="693"/><use href="#cm" x="1504" y="799"/><use href="#cm" x="1504" y="937"/><use href="#cm" x="1487" y="991"/><use href="#cm" x="1504" y="1088"/><use href="#cm" x="1504" y="1126"/><use href="#cm" x="1515" y="1155"/><use href="#cm" x="1510" y="1203"/>
<use href="#cm" x="1679" y="731"/><use href="#cm" x="1615" y="760"/><use href="#cm" x="1607" y="779"/><use href="#cm" x="1737" y="779"/><use href="#cm" x="1611" y="867"/><use href="#cm" x="1696" y="923"/><use href="#cm" x="1615" y="952"/><use href="#cm" x="1509" y="1421"/><use href="#cm" x="1603" y="1469"/>
</g>
<text x="1100" y="1115" class="B" style="text-anchor:start">师傅端</text>
<text class="L" x="1257" y="368">资金流程</text><text class="L" x="1257" y="501">账户余额</text><text class="L" x="1257" y="575">接单方式</text><text class="L" x="1257" y="947">接单流程</text><text class="L" x="1257" y="1316">快捷选项</text><text class="L" x="1257" y="1464">师傅入驻</text><text class="L" x="1257" y="1535">订单日志</text><text class="L" x="1257" y="1583">押金账户</text><text class="L" x="1257" y="1622">成长记录</text><text class="L" x="1257" y="1641">师傅推荐</text><text class="L" x="1257" y="1660">查看师傅</text><text class="L" x="1257" y="1689">权限分类</text><text class="L" x="1257" y="1727">基本信息</text><text class="L" x="1257" y="1755">公告信息</text><text class="L" x="1257" y="1784">快捷工具</text><text class="L" x="1257" y="1822">号码隐私</text><text class="L" x="1257" y="1860">数据统计</text>
<text x="1331" y="298">1、用户付款</text><text x="1331" y="317">2、订单结束</text><text x="1331" y="336">3、审核结算</text><text x="1331" y="355">4、扣除佣金</text><text x="1331" y="374">5、余额到账</text><text x="1331" y="393">6、提现金额</text><text x="1331" y="412">7、审核提现</text><text x="1331" y="440">8、自动到账</text>
<path class="br" d="M1398 290 q8 0 8 14 v40 q0 12 7 12 q-7 0 -7 12 v40 q0 14 -8 14 M1385 560 q8 0 8 6 q0 9 5 9 q-5 0 -5 9 q0 6 -8 6 M1930 673 q12 0 12 25 v90 q0 30 8 30 q-8 0 -8 30 v85 q0 24 -12 24 M1605 1028 q8 0 8 5 q0 7 5 7 q-5 0 -5 7 q0 5 -8 5 M1692 845 q8 0 8 5 q0 10 5 10 q-5 0 -5 10 q0 5 -8 5"/>
<text class="n" x="1434" y="356">用户下单-师傅接单-用户付款-订单结算-到账余额</text>
<text x="1420" y="431">支持自动打款，到账微信余额</text><text x="1576" y="431">需要分销插件支持</text><text x="1420" y="450">支持线下打款，线上确认到账</text>
<text x="1331" y="469">1、可在线提现申请，后台管理员审核自动到账</text><text x="1555" y="469">需要开通企业付款到零钱接口</text><text x="1331" y="488">2、今日昨日、本月上月金额数据、累计进账</text><text x="1331" y="507">3、已提现、可提现、待审核金额数据</text><text x="1331" y="535">4、预估未结算金额</text><text x="1447" y="526">结算分类的佣金系数不同</text><text x="1447" y="544">实际已结算后金额为准</text>
<text x="1331" y="566">抢单模式</text><text x="1331" y="585">派单模式</text><text class="n" x="1421" y="576">详细说明看接单模式</text>
<text x="1331" y="634">1、接手订单</text><text x="1420" y="606">未接单前看不到客户具体信息</text><text x="1420" y="625">接单后可以获取客户信息和联系客户</text><text x="1420" y="644">一般需要联系客户获取基本订单信息以及确认上门服务日期</text><text x="1420" y="663">未接单订单支持超时自动取消</text>
<text x="1331" y="842">2、确认订单</text>
<text x="1420" y="693">1、确认订单故障</text><text x="1527" y="684">诊断真实的故障信息</text><text x="1527" y="703">用户下单选择的项目可能不准确</text>
<text x="1420" y="799">2、确认订单金额</text><text x="1527" y="731">可设置人工费和材料费、检查费用</text><text x="1700" y="722">对客户隐藏</text><text x="1700" y="741">名称皆可自定义设置</text><text x="1527" y="760">设置最终支付金额</text><text x="1638" y="760">对客户开放</text><text x="1527" y="779">预付款定金模式</text><text x="1629" y="779">用户直接支付尾款即可</text><text x="1758" y="779">定金10元，订单50元，最后支付40元</text><text x="1527" y="798">支持多项分项目确认金额</text><text x="1527" y="817">支持人工费、材料费、检查费项目费自动合计</text><text x="1527" y="867">订单费用金额种类</text><text x="1638" y="838">人工费用</text><text x="1638" y="857">材料费用</text><text x="1638" y="876">检查费用</text><text x="1638" y="895">以上三种费用可单独设置启用或不启用，支持名称自定义</text>
<text class="n" x="1727" y="850">对师傅和后台开放展示，</text><text class="n" x="1727" y="866">其中材料费用支持单独结算</text>
<text class="n" x="1959" y="818">多种自定义选项控制</text>
<text x="1420" y="937">3、支持师傅收款</text><text x="1527" y="923">开启用户把钱给师傅后由师傅确认收款</text><text x="1719" y="914">可开启可关闭</text><text x="1719" y="933">现金或收款码</text><text x="1527" y="952">支持订单费用代付</text><text x="1638" y="952">师傅可出示系统内的付款二维码由他人支付</text>
<text x="1420" y="991">4、特殊模式</text><text x="1509" y="971">默认服务之前确认订单金额等信息，也可以开启服务后再确认订单信息</text><text x="1509" y="990">后台参数设置新增确认订单时机选项，确认订单解决方案、各种金额数据的设置时机默认为接单后</text><text x="1509" y="1009">服务前设置:服务后确认为先服务后设置订单方案及订单金额数据</text>
<text x="1331" y="1039">3、进行服务</text><text x="1420" y="1030">师傅可以立刻开始工作</text><text x="1420" y="1049">师傅需要等待配件材料等到齐后开始工作</text><text class="n" x="1635" y="1040">灵活处理不在系统内体现</text>
<text x="1331" y="1122">4、用户付款</text><text x="1420" y="1088">1、使用余额支付</text><text x="1527" y="1069">当余额足够则优先使用余额支付</text><text x="1527" y="1088">余额大于0但不足以支付订单时推荐其进行充值</text><text x="1527" y="1107">余额为0则默认微信支付</text><text x="1420" y="1126">2、使用微信支付</text><text x="1527" y="1126">小程序端是单独小程序支付</text><text x="1420" y="1155">3、选择使用优惠券</text><text x="1536" y="1146">微信支付时可以使用优惠券</text><text x="1536" y="1165">余额支付不能使用优惠券，充值有送值活动</text>
<text x="1331" y="1203">5、订单结束</text><text x="1420" y="1184">默认是由师傅结束</text><text x="1420" y="1203">可开启由客户结束</text><text x="1531" y="1203">支持对接评价插件作为结束时机</text><text x="1420" y="1222">发起结算申请</text>
<text x="1331" y="1261">6、特殊支持</text><text x="1420" y="1242">服务流程在已接单和已服务之间，支持开启已上门状态，开关在后台参数设置内开启</text><text x="1420" y="1261">开启后订单管理新增已上门状态，师傅端增加已上门状态，接单后需要先设置确认上门状态，再进行下个流程，其他流程不变</text><text x="1420" y="1280">用户端的个人中心和订单列表增加支持上门状态显示</text>
<text x="1331" y="1297">开启工作模式</text><text x="1424" y="1297">下线将不再接收订单通知</text>
<text x="1331" y="1316">设置接单范围</text><text x="1424" y="1316">可以设置自身坐标Nkm范围内订单</text><text x="1595" y="1316">针对用户有坐标信息订单有效</text><text x="1331" y="1335">设置接单区县</text><text x="1424" y="1335">默认一个区县，可以设置当前城市下的多个区县信息</text>
<text x="1331" y="1421">1、自行申请</text><text x="1420" y="1355">支持两种表单</text><text x="1513" y="1355">建议使用详细表单</text><text x="1420" y="1421">支持多项表单信息</text><text x="1531" y="1374">姓名电话</text><text x="1531" y="1393">银行卡信息</text><text x="1531" y="1412">保险信息</text><text x="1531" y="1431">省市区信息</text><text x="1531" y="1450">权限分类信息</text><text x="1531" y="1469">证件照片上传</text><text x="1625" y="1469">支持两组</text><text x="1420" y="1488">支持支付保证金申请</text><text x="1540" y="1488">可以设置保证金额申请</text>
<text x="1331" y="1507">2、后台扫码</text><text x="1420" y="1507">扫码后由管理员后台审核</text>
<text x="1331" y="1535">订单的各种日志记录</text><text x="1451" y="1526">接单、确认订单、支付确认、结束</text><text x="1451" y="1545">结算申请、转单、取消、售后</text>
<text x="1331" y="1564">可在工作台自行在线支付押金</text><text x="1331" y="1583">后台管理员可对押金账户进行增加或减少金额</text><text x="1331" y="1602">押金账户可进行在线或线下退款</text>
<text x="1331" y="1622">后台可以设置师傅的奖惩信息，一直伴随师傅记录成长轨迹</text>
<text x="1331" y="1641">可以推广分享获取师傅入驻红包</text><text x="1496" y="1641">需要开启支付保证金申请师傅</text>
<text x="1331" y="1660">城市管理员可查看其它师傅最后上报地图位置</text>
<text x="1331" y="1680">可自行申请修改分类权限</text><text x="1470" y="1680">支持1级或者2级</text><text x="1331" y="1698">提交后需要管理员重新审核</text>
<text x="1331" y="1718">可自行修改基本信息</text><text x="1331" y="1736">提交后需要管理员重新审核</text>
<text x="1331" y="1755">后台可以设置三类公告信息</text>
<text x="1331" y="1774">支持设置订单备注，可多项，自动记录时机和内容，后台和师傅端可查看</text><text x="1331" y="1793">废弃订单申请取消，由后台审核，申请原因加入订单日志</text>
<text x="1331" y="1812">支持隐藏客户和师傅的电话，使用阿里云的号码隐私服务</text><text x="1331" y="1831">方便保护客户和师傅隐私</text>
<text x="1331" y="1850">师傅的今日、昨日、近7天、近30天的数据统计</text><text x="1331" y="1869">接单量、已接单、已服务、已结束、已评价等</text>
</g>

<!-- ================= 接单模式 ================= -->
<g>
<path class="ln" stroke="#20a8a0" d="M1278 2013V2416 M1278 2013h8 M1278 2164h8 M1278 2231h8 M1278 2268h8 M1278 2320h8 M1278 2371h8 M1278 2416h8
M1356 1937V2088 M1356 2126V2202 M1356 2221V2240 M1356 2259V2278 M1356 2307V2336 M1356 2357V2386
M1462 1918V1955 M1507 1975V1993 M1498 2012V2050 M1498 2069V2107 M1421 2298V2317 M1421 2377V2397"/>
<g style="color:#20a8a0">
<use href="#cm" x="1346" y="2013"/><use href="#cm" x="1346" y="2164"/><use href="#cm" x="1346" y="2231"/><use href="#cm" x="1346" y="2268"/><use href="#cm" x="1346" y="2320"/><use href="#cm" x="1346" y="2371"/><use href="#cm" x="1346" y="2416"/>
<use href="#cm" x="1453" y="1937"/><use href="#cm" x="1497" y="1984"/><use href="#cm" x="1489" y="2031"/><use href="#cm" x="1489" y="2088"/><use href="#cm" x="1462" y="2126"/><use href="#cm" x="1435" y="2221"/><use href="#cm" x="1435" y="2240"/><use href="#cm" x="1421" y="2307"/><use href="#cm" x="1421" y="2336"/><use href="#cm" x="1412" y="2357"/><use href="#cm" x="1412" y="2386"/><use href="#cm" x="1530" y="2357"/><use href="#cm" x="1515" y="2377"/><use href="#cm" x="1525" y="2397"/>
</g>
<text class="L" x="1293" y="2013">抢单模式</text><text class="L" x="1293" y="2164">派单模式</text><text class="L" x="1293" y="2231">延时通知</text><text class="L" x="1293" y="2268">超时通知</text><text class="L" x="1293" y="2320">通知方式</text><text class="L" x="1293" y="2371">订单取消</text><text class="L" x="1293" y="2416">接单积分</text>
<text x="1369" y="1937">1、默认抢单模式</text><text x="1475" y="1918">师傅仅可以抢自己权限分类内订单</text><text x="1475" y="1937">谁先抢到属于谁的，谁负责后续订单处理</text><text x="1475" y="1955">自动判断是否被抢单，被抢单后会自动提示</text>
<text x="1369" y="1984">2、通知订单所在城市的师傅</text><text x="1520" y="1975">默认地级市为单位</text><text x="1520" y="1993">新增支持区县级的城市</text>
<text x="1369" y="2031">3、设置一级大类权限控制</text><text x="1511" y="2012">如师傅A只接收家电维修大类订单</text><text x="1511" y="2031">允许设置多个大类权限同时使用</text><text x="1511" y="2050">拥有大类下的全部子类订单权限</text>
<text x="1369" y="2088">4、设置具体二级权限控制</text><text x="1511" y="2069">如师傅A只能接收家电维修下二级子分类洗衣机的订单</text><text x="1511" y="2088">允许设置多个子类权限同时使用</text><text x="1511" y="2107">只有符合子类权限的订单才可以接单</text>
<text x="1369" y="2126">1、可设置派单模式</text><text x="1484" y="2126">员工可在后台设置转接派单权限</text><text x="1369" y="2145">2、订单通知派单员</text><text x="1369" y="2164">3、派单员接单后可以转接订单给其他普通员工</text><text x="1369" y="2183">4、后续流程相同</text><text x="1369" y="2202">5、同时支持后台派单</text>
<text x="1369" y="2221">1、一级师傅</text><text x="1457" y="2221">实时收到通知，接单数量不受限制</text><text x="1369" y="2240">2、二级师傅</text><text x="1457" y="2240">延时N分钟收到通知,可设置数量限制，同时接M个订单</text>
<text x="1369" y="2259">超过设置时间不处理订单会提醒城市管理员</text><text x="1369" y="2278">支持短信和模板消息提醒</text>
<text x="1369" y="2307">模板消息</text><text x="1443" y="2298">默认使用，直接通知师傅微信</text><text x="1443" y="2317">师傅可以设置工作状态，工作时可接单，下线时不会收到消息通知</text><text x="1369" y="2336">短信通知</text><text x="1443" y="2336">可申请通知模板</text>
<text x="1369" y="2357">接单前</text><text x="1434" y="2357">用户可自行取消订单</text><text x="1554" y="2357">若有支付定金则自动退还</text><text x="1369" y="2386">接单后</text><text x="1434" y="2377">不允许用户取消</text><text x="1536" y="2377">师傅端可以取消订单</text><text x="1434" y="2397">可设置由师傅审核</text><text x="1545" y="2397">按订单的上门服务时间往前计算N个小时前可取消，N小时内需要师傅审核</text>
<text x="1369" y="2416">赠送师傅的积分</text>
</g>

<!-- ================= 平台佣金 ================= -->
<g>
<path class="ln" stroke="#f5c61a" d="M1276 2475V2587 M1276 2475h8 M1276 2515h8 M1276 2555h8 M1276 2587h8 M1260 2531h16 M1436 2466V2485 M1454 2506V2525 M1448 2546V2565"/>
<g style="color:#f5c61a"><use href="#cm" x="1268" y="2531"/><use href="#cm" x="1425" y="2475"/><use href="#cm" x="1443" y="2515"/><use href="#cm" x="1437" y="2555"/><use href="#cm" x="1437" y="2587"/></g>
<text x="1197" y="2531" class="L" style="font-size:13px">平台佣金</text>
<text x="1291" y="2475">以城市为单位设置佣金百分比</text><text x="1291" y="2515">以师傅分组为单位设置佣金百分比</text><text x="1291" y="2555">支持设置二级子分类的佣金百分比</text><text x="1291" y="2587">师傅所得=订单金额扣除平台佣金</text>
<text x="1448" y="2466">北京市-10.00%</text><text x="1448" y="2485">上海市-15.00%</text><text x="1466" y="2506">金牌师傅-10%</text><text x="1466" y="2525">银牌师傅-15%</text><text x="1466" y="2546">维修-电视机-8.50%</text><text x="1466" y="2565">维修-热水器-10.50%</text><text x="1461" y="2587">例如订单100元，按10%平台比例，扣除10元平台服务费，剩余90元到师傅账户余额</text>
<path class="br" d="M1525 2462 q7 0 7 6 q0 9 5 9 q-5 0 -5 9 q0 6 -7 6 M1570 2542 q7 0 7 6 q0 9 5 9 q-5 0 -5 9 q0 6 -7 6"/>
<text class="n" x="1562" y="2477">举例说明</text><text class="n" x="1603" y="2557">城市、分组下分别都支持2级设置</text>
</g>

<!-- ================= 插件列表 ================= -->
<g>
<path class="ln" stroke="#f39c1f" d="M1254 2684V3965 M1254 2684h8 M1254 2916h8 M1254 3142h8 M1254 3343h8 M1254 3506h8 M1254 3587h8 M1254 3759h8 M1254 3928h8 M1254 3965h8 M1238 3324h16
M1313 2655V2713 M1313 2735V3100 M1313 3120V3168 M1322 3240V3448 M1322 3489V3528 M1322 3548V3628 M1313 3650V3870 M1322 3919V3938 M1313 3957V3976
M1433 2637V2675 M1425 2837V2856 M1442 2880V2899 M1407 2962V2981 M1425 3022V3060 M1398 3140V3198 M1450 3228V3266 M1407 3305V3324 M1450 3370V3409 M1398 3470V3508 M1425 3710V3729 M1407 3805V3824 M1390 3843V3901"/>
<g style="color:#f39c1f">
<use href="#cm" x="1243" y="3324"/>
<use href="#cm" x="1303" y="2684"/><use href="#cm" x="1303" y="2916"/><use href="#cm" x="1303" y="3142"/><use href="#cm" x="1312" y="3343"/><use href="#cm" x="1312" y="3506"/><use href="#cm" x="1312" y="3587"/><use href="#cm" x="1303" y="3759"/><use href="#cm" x="1312" y="3928"/><use href="#cm" x="1303" y="3965"/>
<use href="#cm" x="1423" y="2655"/><use href="#cm" x="1416" y="2735"/><use href="#cm" x="1424" y="2755"/><use href="#cm" x="1416" y="2775"/><use href="#cm" x="1416" y="2795"/><use href="#cm" x="1397" y="2816"/><use href="#cm" x="1415" y="2845"/><use href="#cm" x="1432" y="2888"/><use href="#cm" x="1460" y="2816"/><use href="#cm" x="1516" y="2880"/><use href="#cm" x="1516" y="2900"/><use href="#cm" x="1465" y="2922"/><use href="#cm" x="1397" y="2970"/><use href="#cm" x="1452" y="3003"/><use href="#cm" x="1415" y="3041"/><use href="#cm" x="1380" y="3080"/><use href="#cm" x="1380" y="3100"/><use href="#cm" x="1380" y="3120"/><use href="#cm" x="1388" y="3168"/><use href="#cm" x="1538" y="3159"/><use href="#cm" x="1482" y="3178"/>
<use href="#cm" x="1440" y="3240"/><use href="#cm" x="1397" y="3307"/><use href="#cm" x="1440" y="3389"/><use href="#cm" x="1440" y="3428"/><use href="#cm" x="1434" y="3448"/><use href="#cm" x="1388" y="3489"/><use href="#cm" x="1461" y="3528"/><use href="#cm" x="1389" y="3548"/><use href="#cm" x="1389" y="3568"/><use href="#cm" x="1380" y="3588"/><use href="#cm" x="1389" y="3609"/><use href="#cm" x="1389" y="3628"/>
<use href="#cm" x="1398" y="3650"/><use href="#cm" x="1416" y="3670"/><use href="#cm" x="1497" y="3690"/><use href="#cm" x="1415" y="3719"/><use href="#cm" x="1478" y="3748"/><use href="#cm" x="1397" y="3814"/><use href="#cm" x="1380" y="3870"/><use href="#cm" x="1312" y="3928"/><use href="#cm" x="1303" y="3965"/>
</g>
<text x="1175" y="3324" class="B" style="text-anchor:start">插件列表</text>
<text class="L" x="1269" y="2684">评价</text><text class="L" x="1269" y="2916">分销</text><text class="L" x="1269" y="3142">商城</text><text class="L" x="1269" y="3343">会员卡</text><text class="L" x="1269" y="3506">优惠券</text><text class="L" x="1269" y="3587">小程序</text><text class="L" x="1269" y="3759">拼团</text><text class="L" x="1269" y="3928">大屏幕</text><text class="L" x="1269" y="3965">客服</text>
<text x="1326" y="2655">支持自定义评价项目</text><text x="1446" y="2637">支持星级评选</text><text x="1446" y="2656">支持单选项字段</text><text x="1446" y="2675">支持上传N张图片</text><text x="1326" y="2694">支持以订单评价作为订单结束的设置</text><text x="1326" y="2713">分别支持用户对平台评价和师傅对用户评价</text>
<text x="1326" y="2735">支持普通四级分销</text><text x="1437" y="2735">支持1-4级单独设置</text><text x="1326" y="2755">支持省市区三层分销</text><text x="1446" y="2755">支持按照省市区行政区域分销</text><text x="1326" y="2775">支持特定地点分销</text><text x="1437" y="2775">支持设置特定地点的分销(例如按小区)</text><text x="1326" y="2795">支持自购订单返佣</text><text x="1437" y="2795">分销商自己下单可以设置返佣</text><text x="1326" y="2816">支持渠道分销</text><text x="1419" y="2816">通过分享系统链接推荐下单</text><text x="1566" y="2816">支持超过天数自动断开</text>
<text x="1326" y="2845">支持关注海报二维码</text><text x="1446" y="2837">支持设置永久和临时关注二维码</text><text x="1446" y="2856">用于公众号的吸粉营销</text>
<text x="1326" y="2888">支持推广红包和关注红包</text><text x="1464" y="2880">推广红包</text><text x="1464" y="2899">关注红包</text><text x="1540" y="2880">分销商可以获取自定义金额红包</text><text x="1540" y="2900">下级关注可以获取自定义金额红包</text>
<text x="1326" y="2922">支持系统级别的佣金比例设置</text><text x="1482" y="2922">也支持分销商级别的佣金比例设置</text><text x="1326" y="2942">支持在线提现在线打款</text>
<text x="1326" y="2970">扣除分销项目</text><text x="1419" y="2962">扣除材料费、人工费、检查费</text><text x="1419" y="2981">扣除税金、保险、自定义项目</text>
<text x="1326" y="3003">支持查看下级最近来访记录</text><text x="1473" y="3003">普通分销和渠道分销</text>
<text x="1326" y="3041">支持设置分销分组</text><text x="1437" y="3022">1、优先使用分销商自身的分销参数</text><text x="1437" y="3041">2、其次使用分销分组的分销参数</text><text x="1437" y="3060">3、最后使用系统级的分销参数</text>
<text x="1326" y="3080">师傅支持</text><text x="1401" y="3080">支持师傅宣传主页</text><text x="1326" y="3100">订单录入</text><text x="1401" y="3100">支持分销商的订单录入，可设置分销地点</text>
<text x="1326" y="3120">配件商城</text><text x="1401" y="3120">支持售卖配件</text><text x="1326" y="3168">多城市商城</text><text x="1411" y="3140">支持多商户</text><text x="1411" y="3159">支持每个城市对应一套商城</text><text x="1557" y="3159">主系统内自动进入当前城市商城</text><text x="1411" y="3178">支持微信支付</text><text x="1503" y="3178">支付商品支持对接拼团插件</text><text x="1411" y="3198">支持积分兑换</text>
<text x="1335" y="3240">支持不同的定金金额</text><text x="1465" y="3228">会员可免定金(也可收费)下单</text><text x="1465" y="3247">普通会员付费下单</text><text x="1465" y="3266">定金金额单独可设置</text>
<rect x="1447" y="3210" width="156" height="73" fill="none" stroke="#6a9e5e" stroke-width="1.5" stroke-dasharray="6 4" rx="6"/>
<text x="1335" y="3307">会员中心</text><text x="1420" y="3305">汇总页面，可展示自定义菜单</text><text x="1420" y="3324">展示余额、积分、会员等级</text>
<rect x="1402" y="3287" width="153" height="53" fill="none" stroke="#6a9e5e" stroke-width="1.5" stroke-dasharray="6 4" rx="6"/>
<text x="1335" y="3353">支持项目会员价和普通价</text><text x="1335" y="3389">设置会员卡的有效天数</text><text x="1465" y="3370">需要付费购买</text><text x="1465" y="3390">到期后自动失效</text><text x="1465" y="3409">可续费</text><text x="1335" y="3428">支持多个规格的会员卡</text><text x="1465" y="3428">不同的名称、不同的天数、不同的价格</text><text x="1335" y="3448">支持卡密激活会员卡</text><text x="1455" y="3448">可以线下销售卡密账户</text>
<text x="1335" y="3489">微信卡券</text><text x="1410" y="3470">折扣券</text><text x="1410" y="3489">代金券</text><text x="1410" y="3508">派发页面</text><text x="1335" y="3528">支持对接一级分类权限使用</text><text x="1482" y="3528">例如仅家电维修使用</text>
<text x="1335" y="3548">生成方式</text><text x="1410" y="3548">打包公众号版本生成，非原生小程序</text><text x="1335" y="3568">支付方式</text><text x="1410" y="3568">需要对接小程序支付</text><text x="1335" y="3588">师傅端</text><text x="1401" y="3588">用户在小程序下单都在公众号的师傅端处理</text><text x="1335" y="3609">其他插件</text><text x="1410" y="3609">支持其他插件打包进系统</text><text x="1335" y="3628">属于插件</text><text x="1410" y="3628">不属于主模块内功能</text>
<text x="1326" y="3650">以城市为单位</text><text x="1419" y="3650">可自动同步到城市的活动列表</text><text x="1326" y="3670">关联平台二级分类</text><text x="1437" y="3670">详细设置到2级分类</text><text x="1326" y="3690">支持设置不同的规格人数和不同的金额</text><text x="1519" y="3690">例如:直接购买或者N人团</text><text x="1326" y="3719">自动关联系统首页</text><text x="1437" y="3710">活动专区：从首页活动区域，例如优惠活动、热门活动即可进入</text><text x="1437" y="3729">拼团专区：按LBS距离展示拼团活动和最近的团长记录滚动展示</text><text x="1326" y="3748">支持对接多城市商城商品拼团购买</text><text x="1500" y="3748">多城市的商品自动转为拼团模式</text><text x="1326" y="3768">支持单独的页面展示和配置</text><text x="1326" y="3787">支持在系统主页按LBS加载拼团活动</text><text x="1326" y="3814">支持在线付款</text><text x="1419" y="3805">目前不支持使用优惠券</text><text x="1419" y="3824">支持微信或余额支付</text><text x="1326" y="3870">拼团成功</text><text x="1401" y="3843">1、可直接下单预约</text><text x="1401" y="3862">2、选择服务地址和服务时间</text><text x="1401" y="3881">3、自动转为平台订单</text><text x="1401" y="3901">4、拼团的费用自动转为订单的预付款金额</text>
<text x="1335" y="3919">系统内各项参数的实时更新展示</text><text x="1335" y="3938">图形化展示数据</text><text x="1326" y="3957">系统内的在线客服交流</text><text x="1326" y="3976">使用socket即时通信</text>
<path class="br" d="M1680 2726 q10 0 10 15 v20 q0 16 7 16 q-7 0 -7 16 v20 q0 15 -10 15 M1598 2832 q8 0 8 6 q0 9 5 9 q-5 0 -5 9 q0 6 -8 6 M1692 2875 q8 0 8 6 q0 9 5 9 q-5 0 -5 9 q0 6 -8 6 M1560 2956 q8 0 8 6 q0 10 5 10 q-5 0 -5 10 q0 6 -8 6 M1610 3222 q8 0 8 8 q0 17 5 17 q-5 0 -5 17 q0 8 -8 8 M1563 3298 q8 0 8 6 q0 10 5 10 q-5 0 -5 10 q0 6 -8 6 M1462 3462 q8 0 8 6 q0 12 5 12 q-5 0 -5 12 q0 6 -8 6 M1715 3640 q10 0 10 20 v35 q0 42 7 42 q-7 0 -7 42 v35 q0 20 -10 20 M1905 2630 q12 0 12 30 v560 q0 88 8 88 q-8 0 -8 88 v560 q0 30 -12 30"/>
<text class="n" x="1710" y="2776">支持设置不同的佣金比例</text><text class="n" x="1626" y="2847">首次关注送现金红包</text><text class="n" x="1728" y="2890">可自动发放</text><text class="n" x="1590" y="2972">扣除后剩余金额进行分销</text><text class="n" x="1637" y="3247">注意:主模块不带定金功能</text><text class="n" x="1590" y="3314">注意:主模块不带会员卡中心页面</text><text class="n" x="1491" y="3480">支持设置不同的分类使用权限</text><text class="n" x="1743" y="3737">来自我们成熟的新品拼团系统</text>
<text class="n" x="1940" y="3308">插件不属于主模块</text>
</g>
</svg>
</body></html>
